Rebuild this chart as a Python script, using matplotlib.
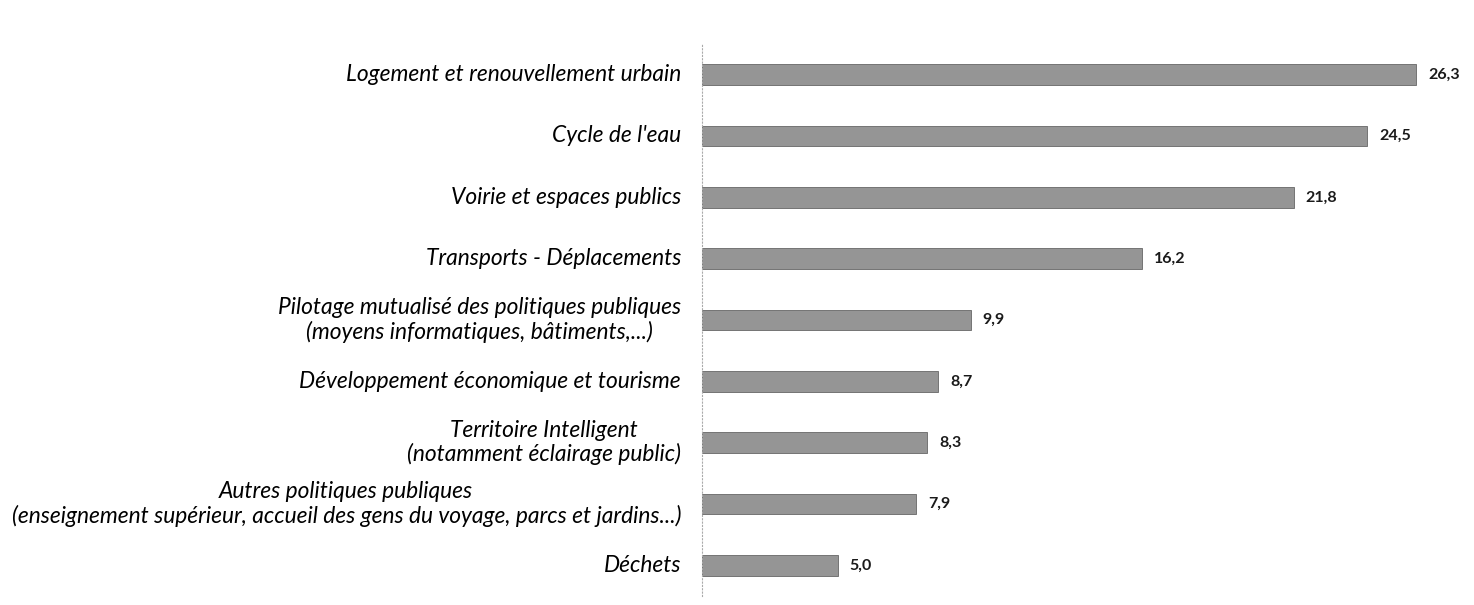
import matplotlib
matplotlib.use("Agg")
import matplotlib.pyplot as plt

categories = [
    "Logement et renouvellement urbain",
    "Cycle de l'eau",
    "Voirie et espaces publics",
    "Transports - Déplacements",
    "Pilotage mutualisé des politiques publiques\n(moyens informatiques, bâtiments,...)",
    "Développement économique et tourisme",
    "Territoire Intelligent\n(notamment éclairage public)",
    "Autres politiques publiques\n(enseignement supérieur, accueil des gens du voyage, parcs et jardins...)",
    "Déchets",
]
values = [26.3, 24.5, 21.8, 16.2, 9.9, 8.7, 8.3, 7.9, 5.0]
value_labels = ["26,3", "24,5", "21,8", "16,2", "9,9", "8,7", "8,3", "7,9", "5,0"]

W, H = 1474, 605
fig = plt.figure(figsize=(W / 100, H / 100), dpi=100)
left, right, top, bottom = 702, 1460, 44, 596
ax = fig.add_axes([left / W, 1 - bottom / H, (right - left) / W, (bottom - top) / H])

y = list(range(len(categories)))
ax.barh(y, values, height=0.34, color="#959595", edgecolor="#666666", linewidth=0.6)
ax.set_ylim(len(categories) - 0.5, -0.5)
ax.set_xlim(0, (right - left) / 27.15)

for yi, v, lab in zip(y, values, value_labels):
    ax.annotate(lab, (v, yi), xytext=(12, 0), textcoords="offset pixels",
                ha="left", va="center", fontsize=11.5, fontweight="bold",
                family="Lato", color="#1a1a1a")

for yi, cat in zip(y, categories):
    ax.annotate(cat, (0, yi), xytext=(-21, 0), textcoords="offset pixels",
                ha="right", va="center", multialignment="center",
                fontsize=16.4, fontstyle="italic", family="Lato", color="#000000",
                linespacing=1.12)

for s in ["top", "right", "bottom"]:
    ax.spines[s].set_visible(False)
ax.spines["left"].set_linestyle((0, (1, 2)))
ax.spines["left"].set_color("#aaaaaa")
ax.spines["left"].set_linewidth(0.8)
ax.set_xticks([])
ax.set_yticks([])

fig.savefig("out.png", dpi=100, facecolor="white")
